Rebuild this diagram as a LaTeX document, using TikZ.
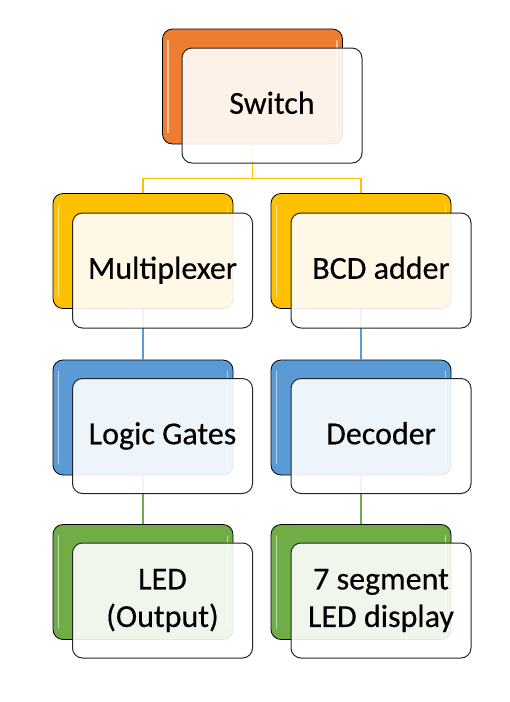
\documentclass[tikz,border=0pt]{standalone}
\usepackage{fontspec}
\setmainfont{Carlito}[FakeBold=0.35]
\definecolor{corange}{HTML}{ED7D31}
\definecolor{cgold}{HTML}{FFC000}
\definecolor{cblue}{HTML}{5B9BD5}
\definecolor{cgreen}{HTML}{70AD47}
\tikzset{
  backbox/.style={draw=black, line width=0.8pt, rounded corners=10pt,
    minimum width=180pt, minimum height=115pt, inner sep=0pt},
  frontbox/.style={draw=black!85, line width=1pt, rounded corners=10pt,
    fill=white, fill opacity=0.9, text opacity=1, draw opacity=1,
    minimum width=180pt, minimum height=115pt, inner sep=0pt,
    align=center, font=\fontsize{32}{37.5}\selectfont},
  oneline/.style={text height=20.5pt, text depth=4pt},
  link/.style={line width=1.1pt},
  gloss/.style={white, opacity=0.55, line width=1.6pt, line cap=round},
}
\newcommand{\glossy}[1]{%
  \draw[gloss] ([xshift=6pt,yshift=-12pt]#1.north west) -- ([xshift=6pt,yshift=12pt]#1.south west);
  \draw[gloss] ([xshift=-6pt,yshift=-12pt]#1.north east) -- ([xshift=-6pt,yshift=12pt]#1.south east);
}
\begin{document}
\begin{tikzpicture}[x=1pt,y=-1pt]
\useasboundingbox (0,0) rectangle (510,702);
% back boxes
\node[backbox, fill=corange] (sw)  at (252.5,86.5) {};
\node[backbox, fill=cgold]   (mux) at (143,251) {};
\node[backbox, fill=cgold]   (bcd) at (361,251) {};
\node[backbox, fill=cblue]   (lg)  at (143,417.5) {};
\node[backbox, fill=cblue]   (dec) at (361,417.5) {};
\node[backbox, fill=cgreen]  (led) at (143,582) {};
\node[backbox, fill=cgreen]  (seg) at (361,582) {};
\foreach \n in {sw,mux,bcd,lg,dec,led,seg} {\glossy{\n}}
% connectors
\draw[link, cgold] (sw.south) -- ++(0,34) -| (mux.north);
\draw[link, cgold] (sw.south) -- ++(0,34) -| (bcd.north);
\draw[link, cblue] (mux.south) -- (lg.north);
\draw[link, cblue] (bcd.south) -- (dec.north);
\draw[link, cgreen] (lg.south) -- (led.north);
\draw[link, cgreen] (dec.south) -- (seg.north);
% front boxes
\node[frontbox, oneline] (swf)  at (272,105.5) {Switch};
\node[frontbox, oneline] (muxf) at (162.5,270.5) {Multiplexer};
\node[frontbox, oneline] (bcdf) at (381,270.5) {BCD adder};
\node[frontbox, oneline] (lgf)  at (162.5,436) {Logic Gates};
\node[frontbox, oneline] (decf) at (381,436) {Decoder};
\node[frontbox] (ledf) at (162.5,600.5) {LED\\(Output)};
\node[frontbox] (segf) at (381,600.5) {7 segment\\LED display};
\end{tikzpicture}
\end{document}
